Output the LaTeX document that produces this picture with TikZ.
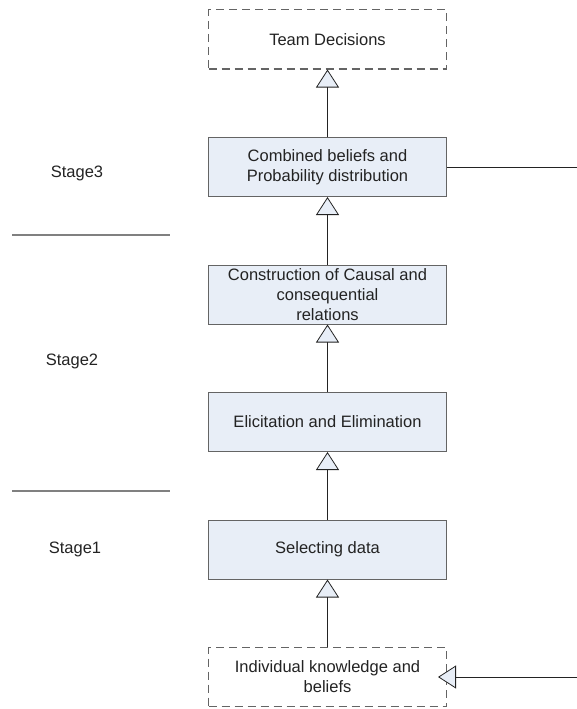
\documentclass[tikz,border=0pt]{standalone}
\usepackage{fontspec}
\setmainfont{Liberation Sans}
\usepackage{tikz}
\usetikzlibrary{positioning,arrows.meta}
\definecolor{boxfill}{RGB}{232,238,247}
\definecolor{boxline}{RGB}{100,100,100}
\definecolor{inkgray}{RGB}{35,35,35}

\begin{document}
\begin{tikzpicture}[x=1pt, y=-1pt, node distance=67.5pt,
    every node/.style = {font=\fontsize{16.5}{20}\selectfont, text=inkgray},
    stagebox/.style = {shape=rectangle, draw=boxline, fill=boxfill, line width=1pt, align=center, minimum width=238pt, minimum height=59pt, inner sep=2pt},
    endbox/.style = {stagebox, fill=white, dashed, dash pattern=on 8pt off 5pt},
    flow/.style = {draw=inkgray, line width=0.8pt, -{Triangle[open, fill=boxfill, width=23pt, length=18pt, line width=0.8pt]}},
    sepline/.style = {draw=gray, line width=1.5pt}]
    \useasboundingbox (0,0) rectangle (577,709);
    \node[endbox] (team) at (327.5,39.5) {Team Decisions};
    \node[stagebox, below=of team] (comb) {Combined beliefs and\\Probability distribution};
    \node[stagebox, below=of comb] (cons) {Construction of Causal and\\consequential\\relations};
    \node[stagebox, below=of cons] (elic) {Elicitation and Elimination};
    \node[stagebox, below=of elic] (sel) {Selecting data};
    \node[endbox, below=of sel] (ind) {Individual knowledge and\\beliefs};
    % stage labels
    \node (s3) at (77,173) {Stage3};
    \node (s2) at (72,361) {Stage2};
    \node (s1) at (75,549) {Stage1};
    \draw[sepline] (12,235) -- (170,235);
    \draw[sepline] (12,491) -- (170,491);
    % flow upwards
    \draw[flow] (ind) -- (sel);
    \draw[flow] (sel) -- (elic);
    \draw[flow] (elic) -- (cons);
    \draw[flow] (cons) -- (comb);
    \draw[flow] (comb) -- (team);
    % feedback
    \coordinate (rim) at (577,0);
    \coordinate (fbout) at (comb.east -| rim);
    \coordinate (fbin) at (ind.east -| rim);
    \draw[draw=inkgray, line width=0.8pt] (comb.east) -- (fbout);
    \draw[flow, shorten >=-9pt] (fbin) -- (ind.east);
\end{tikzpicture}
\end{document}
